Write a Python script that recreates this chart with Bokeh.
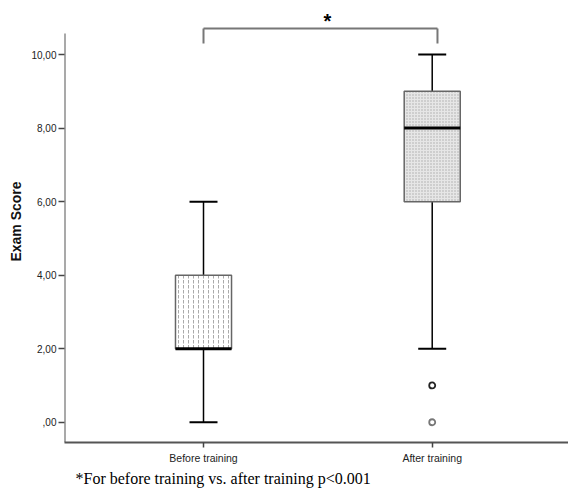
from bokeh.plotting import figure
from bokeh.models import Range1d, FixedTicker, Title
from bokeh.core.properties import value
from bokeh.embed import file_html
from bokeh.resources import INLINE

# ---- data ----
groups = ["Before training", "After training"]
positions = [1, 2]
mins = [0, 2]
q1s = [2, 6]
medians = [2, 8]
q3s = [4, 9]
maxs = [6, 10]
outlier_x = [2, 2]
outlier_y = [1, 0]
outlier_colors = ["#222222", "#777777"]
y_ticks = [0, 2, 4, 6, 8, 10]
y_tick_labels = [",00", "2,00", "4,00", "6,00", "8,00", "10,00"]
footnote = "*For before training vs. after training p<0.001"

x0, x1 = 0.3922, 2.5959
y0, y1 = -0.551, 11.47

p = figure(width=568, height=488, output_backend="svg", toolbar_location=None,
           x_range=Range1d(x0, x1), y_range=Range1d(y0, y1),
           min_border_left=64, min_border_right=0, min_border_top=0, min_border_bottom=45)
p.outline_line_color = None
p.xgrid.grid_line_color = None
p.ygrid.grid_line_color = None
p.background_fill_color = "white"

# y axis
p.yaxis.ticker = FixedTicker(ticks=y_ticks)
p.yaxis.major_label_overrides = {t: l for t, l in zip(y_ticks, y_tick_labels)}
p.yaxis.axis_line_color = None
p.yaxis.minor_tick_line_color = None
p.yaxis.major_tick_in = 0
p.yaxis.major_tick_out = 6
p.yaxis.major_tick_line_color = "#444444"
p.yaxis.major_tick_line_width = 1.5
p.yaxis.major_label_text_font = "Liberation Sans"
p.yaxis.major_label_text_font_size = "10px"
p.yaxis.major_label_text_color = "#222222"
p.yaxis.major_label_standoff = 2
p.yaxis.axis_label = "Exam Score"
p.yaxis.axis_label_text_font = "Liberation Sans"
p.yaxis.axis_label_text_font_style = "bold"
p.yaxis.axis_label_text_font_size = "14px"
p.yaxis.axis_label_text_color = "#111111"
p.yaxis.axis_label_standoff = 4

# x axis
p.xaxis.ticker = FixedTicker(ticks=positions)
p.xaxis.major_label_overrides = {pos: g for pos, g in zip(positions, groups)}
p.xaxis.axis_line_color = "#555555"
p.xaxis.axis_line_width = 2
p.xaxis.minor_tick_line_color = None
p.xaxis.major_tick_in = 0
p.xaxis.major_tick_out = 5
p.xaxis.major_tick_line_color = "#444444"
p.xaxis.major_tick_line_width = 1.5
p.xaxis.major_label_text_font = "Liberation Sans"
p.xaxis.major_label_text_font_size = "10.5px"
p.xaxis.major_label_text_color = "#222222"
p.xaxis.major_label_standoff = 4

# footnote below the axis
p.add_layout(Title(text=footnote, align="left", offset=11, standoff=3,
                   text_font="Liberation Serif", text_font_size="16px",
                   text_font_style="normal", text_color="black"), "below")

# y axis line (partial)
p.segment(x0=[x0], y0=[y0], x1=[x0], y1=[10.57], line_color="#555555", line_width=2)

box_w = 0.245
cap_w = 0.1224

# whiskers
p.segment(x0=positions, y0=mins, x1=positions, y1=q1s, line_color="black", line_width=1.5)
p.segment(x0=positions, y0=q3s, x1=positions, y1=maxs, line_color="black", line_width=1.5)
# caps
for y in (mins, maxs):
    p.segment(x0=[x - cap_w / 2 for x in positions], y0=y,
              x1=[x + cap_w / 2 for x in positions], y1=y,
              line_color="black", line_width=2)

# boxes
p.vbar(x=[positions[0]], bottom=[q1s[0]], top=[q3s[0]], width=box_w,
       fill_color="white", line_color="#666666", line_width=1.5,
       hatch_pattern="vertical_dash", hatch_scale=5, hatch_color="#aaaaaa", hatch_weight=1)
p.vbar(x=[positions[1]], bottom=[q1s[1]], top=[q3s[1]], width=box_w,
       fill_color="#e6e6e6", line_color="#666666", line_width=1.5,
       hatch_pattern="dot", hatch_scale=3, hatch_color="#aaaaaa", hatch_weight=1)

# medians
p.segment(x0=[x - box_w / 2 for x in positions], y0=medians,
          x1=[x + box_w / 2 for x in positions], y1=medians,
          line_color="black", line_width=3)

# outliers
p.scatter(x=outlier_x, y=outlier_y, marker="circle", size=6, fill_color="white",
          line_color=outlier_colors, line_width=1.8)

# significance bracket
p.segment(x0=[1, 1, 2.023], y0=[10.71, 10.30, 10.30], x1=[2.023, 1, 2.023], y1=[10.71, 10.71, 10.71],
          line_color="#777777", line_width=2)
p.text(x=[1.542], y=[10.91], text=["*"], text_font=value("Liberation Sans"),
       text_font_style="bold", text_font_size="20px", text_align="center",
       text_baseline="alphabetic", text_color="black")

open("out.html", "w").write(file_html(p, INLINE))
